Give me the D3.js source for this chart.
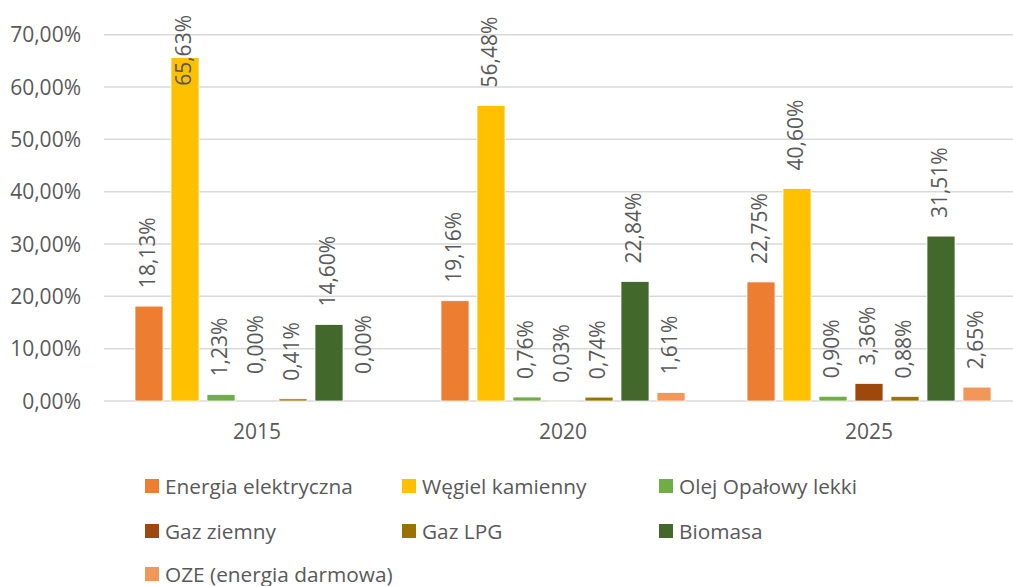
<!DOCTYPE html>
<html lang="pl">
<head>
    <meta charset="UTF-8">
    <title>Struktura nośników energii</title>
    <style>
        body {
            margin: 0;
            padding: 0;
            background: #fff;
            font-family: "Open Sans", sans-serif;
        }

        svg {
            display: block;
        }

        .grid line {
            stroke: #d9d9d9;
            stroke-width: 1.5;
        }

        text {
            fill: #595959;
        }
    </style>
</head>
<body>
    <div id="chart"></div>

    <script src="https://d3js.org/d3.v7.min.js"></script>
    <script>
        // Dane (udział procentowy)
        const years = ["2015", "2020", "2025"];
        const seriesNames = [
            "Energia elektryczna",
            "Węgiel kamienny",
            "Olej Opałowy lekki",
            "Gaz ziemny",
            "Gaz LPG",
            "Biomasa",
            "OZE (energia darmowa)"
        ];
        const energiaElektryczna = [18.13, 19.16, 22.75];
        const wegielKamienny = [65.63, 56.48, 40.60];
        const olejOpalowy = [1.23, 0.76, 0.90];
        const gazZiemny = [0.00, 0.03, 3.36];
        const gazLPG = [0.41, 0.74, 0.88];
        const biomasa = [14.60, 22.84, 31.51];
        const oze = [0.00, 1.61, 2.65];
        const yTicks = [0, 10, 20, 30, 40, 50, 60, 70];

        const seriesValues = [energiaElektryczna, wegielKamienny, olejOpalowy, gazZiemny, gazLPG, biomasa, oze];
        const colors = ["#ED7D31", "#FFC000", "#70AD47", "#9E480E", "#997300", "#43682B", "#F1975A"];

        const data = [];
        years.forEach((year, i) => {
            seriesNames.forEach((name, j) => {
                data.push({ year, name, value: seriesValues[j][i] });
            });
        });

        const width = 1013;
        const height = 586;
        const plot = { left: 104, right: 1022, top: 34.7, bottom: 401 };

        const pl = d3.formatLocale({ decimal: ",", thousands: " ", grouping: [3], currency: ["", " zł"] });
        const fmt = pl.format(".2%");

        const svg = d3.select("#chart")
            .append("svg")
            .attr("width", width)
            .attr("height", height);

        const x0 = d3.scaleBand()
            .domain(years)
            .range([plot.left, plot.right]);

        const x1 = d3.scaleBand()
            .domain(seriesNames)
            .range([31, 275])
            .paddingInner(8 / 36);

        const y = d3.scaleLinear()
            .domain([0, 70])
            .range([plot.bottom, plot.top]);

        const color = d3.scaleOrdinal()
            .domain(seriesNames)
            .range(colors);

        // siatka
        svg.append("g")
            .attr("class", "grid")
            .selectAll("line")
            .data(yTicks)
            .enter()
            .append("line")
            .attr("x1", plot.left)
            .attr("x2", plot.right)
            .attr("y1", d => y(d))
            .attr("y2", d => y(d));

        // oś Y
        svg.append("g")
            .selectAll("text")
            .data(yTicks)
            .enter()
            .append("text")
            .attr("x", 81)
            .attr("y", d => y(d))
            .attr("dy", "0.36em")
            .attr("text-anchor", "end")
            .style("font-size", "21px")
            .text(d => fmt(d / 100));

        // oś X
        svg.append("g")
            .selectAll("text")
            .data(years)
            .enter()
            .append("text")
            .attr("x", d => x0(d) + x0.bandwidth() / 2)
            .attr("y", 439)
            .attr("text-anchor", "middle")
            .style("font-size", "21px")
            .text(d => d);

        // słupki
        svg.append("g")
            .selectAll("rect")
            .data(data)
            .enter()
            .append("rect")
            .attr("x", d => x0(d.year) + x1(d.name))
            .attr("y", d => y(d.value))
            .attr("width", x1.bandwidth())
            .attr("height", d => y(0) - y(d.value))
            .attr("fill", d => color(d.name))
            .attr("stroke", "#fff")
            .attr("stroke-width", 0.75);

        // etykiety danych
        svg.append("g")
            .selectAll("text")
            .data(data)
            .enter()
            .append("text")
            .attr("text-anchor", "start")
            .attr("dy", "0.3em")
            .style("font-size", "21px")
            .text(d => fmt(d.value / 100))
            .attr("transform", function (d) {
                const cx = x0(d.year) + x1(d.name) + x1.bandwidth() / 2;
                const len = this.getComputedTextLength();
                let start = y(d.value) - (d.value === 0 ? 27 : 18);
                if (start - len < 15) start = 15 + len;
                return `translate(${cx},${start}) rotate(-90)`;
            });

        // legenda
        const legendCols = [145, 402, 659];
        const legendRows = [486, 531, 574];
        const legend = svg.append("g")
            .selectAll("g")
            .data(seriesNames)
            .enter()
            .append("g")
            .attr("transform", (d, i) => `translate(${legendCols[i % 3]},${legendRows[Math.floor(i / 3)]})`);

        legend.append("rect")
            .attr("x", 0)
            .attr("y", -7)
            .attr("width", 14)
            .attr("height", 14)
            .attr("fill", d => color(d));

        legend.append("text")
            .attr("x", 20)
            .attr("dy", "0.36em")
            .style("font-size", "20.8px")
            .text(d => d);
    </script>
</body>
</html>
